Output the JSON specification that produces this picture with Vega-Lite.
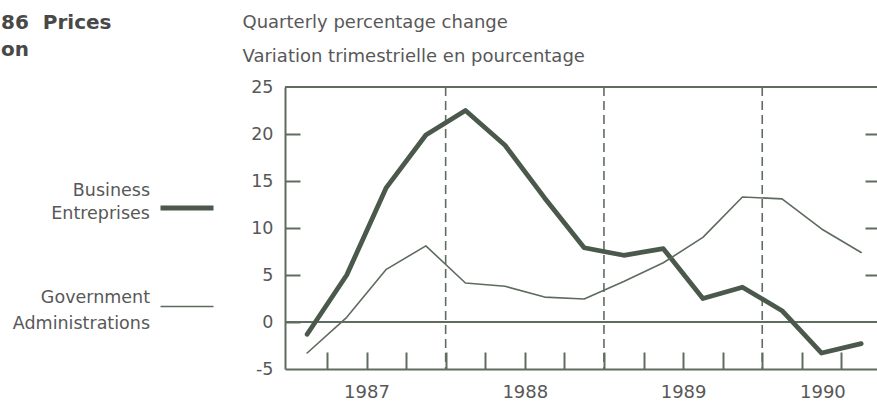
{
  "$schema": "https://vega.github.io/schema/vega-lite/v6.json",
  "autosize": {"type": "none"},
  "padding": {"left": 285, "top": 87, "right": 0, "bottom": 33},
  "width": 592,
  "height": 282,
  "background": "white",
  "title": {
    "text": ["86\u00a0\u00a0Prices", "on"],
    "anchor": "start",
    "frame": "group",
    "orient": "top",
    "dx": -284,
    "dy": 47,
    "offset": 0,
    "font": "DejaVu Sans",
    "fontSize": 20,
    "fontWeight": "bold",
    "color": "#484848",
    "lineHeight": 27
  },
  "config": {
    "view": {"stroke": null},
    "axis": {
      "labelFont": "DejaVu Sans",
      "labelFontSize": 17.5,
      "labelColor": "#585858",
      "domainColor": "#5f6d60",
      "tickColor": "#5f6d60",
      "grid": false
    },
    "legend": {
      "orient": "none",
      "legendX": -127,
      "legendY": 92,
      "title": null,
      "symbolType": "stroke",
      "symbolSize": 2809,
      "labelAlign": "right",
      "labelOffset": -66,
      "rowPadding": 56,
      "labelFont": "DejaVu Sans",
      "labelFontSize": 17.5,
      "labelColor": "#585858",
      "labelLimit": 0
    }
  },
  "datasets": {
    "series": [
      {"t": 1987.125, "series": "Business|Entreprises", "value": -1.3},
      {"t": 1987.375, "series": "Business|Entreprises", "value": 5.0},
      {"t": 1987.625, "series": "Business|Entreprises", "value": 14.3},
      {"t": 1987.875, "series": "Business|Entreprises", "value": 19.9},
      {"t": 1988.125, "series": "Business|Entreprises", "value": 22.5},
      {"t": 1988.375, "series": "Business|Entreprises", "value": 18.8},
      {"t": 1988.625, "series": "Business|Entreprises", "value": 13.2},
      {"t": 1988.875, "series": "Business|Entreprises", "value": 7.9},
      {"t": 1989.125, "series": "Business|Entreprises", "value": 7.1},
      {"t": 1989.375, "series": "Business|Entreprises", "value": 7.8},
      {"t": 1989.625, "series": "Business|Entreprises", "value": 2.5},
      {"t": 1989.875, "series": "Business|Entreprises", "value": 3.7},
      {"t": 1990.125, "series": "Business|Entreprises", "value": 1.2},
      {"t": 1990.375, "series": "Business|Entreprises", "value": -3.3},
      {"t": 1990.625, "series": "Business|Entreprises", "value": -2.3},
      {"t": 1987.125, "series": "Government|Administrations", "value": -3.3},
      {"t": 1987.375, "series": "Government|Administrations", "value": 0.5},
      {"t": 1987.625, "series": "Government|Administrations", "value": 5.6},
      {"t": 1987.875, "series": "Government|Administrations", "value": 8.1},
      {"t": 1988.125, "series": "Government|Administrations", "value": 4.15},
      {"t": 1988.375, "series": "Government|Administrations", "value": 3.8},
      {"t": 1988.625, "series": "Government|Administrations", "value": 2.65},
      {"t": 1988.875, "series": "Government|Administrations", "value": 2.45},
      {"t": 1989.125, "series": "Government|Administrations", "value": 4.3},
      {"t": 1989.375, "series": "Government|Administrations", "value": 6.3},
      {"t": 1989.625, "series": "Government|Administrations", "value": 9.0},
      {"t": 1989.875, "series": "Government|Administrations", "value": 13.3},
      {"t": 1990.125, "series": "Government|Administrations", "value": 13.1},
      {"t": 1990.375, "series": "Government|Administrations", "value": 9.9},
      {"t": 1990.625, "series": "Government|Administrations", "value": 7.4}
    ],
    "years": [{"year": 1988}, {"year": 1989}, {"year": 1990}],
    "zeroline": [{"level": 0}],
    "topline": [{"level": 25}]
  },
  "layer": [
    {
      "data": {"name": "years"},
      "mark": {"type": "rule", "strokeDash": [9, 5], "strokeWidth": 1.6, "color": "#5f6d60"},
      "encoding": {
        "x": {
          "field": "year", "type": "quantitative",
          "scale": {"domain": [1986.985, 1990.725], "nice": false, "zero": false},
          "axis": {
            "orient": "bottom",
            "values": [1987.5, 1988.5, 1989.5, 1990.5],
            "labelExpr": "toString(floor(datum.value))",
            "ticks": false, "domainWidth": 2,
            "labelPadding": 14, "labelFontSize": 18,
            "labelOffset": {"condition": {"test": "datum.value > 1990", "value": -19}, "value": 0},
            "title": null
          }
        }
      }
    },
    {
      "data": {"name": "zeroline"},
      "mark": {"type": "rule", "strokeWidth": 1.8, "color": "#5f6d60"},
      "encoding": {
        "y": {
          "field": "level", "type": "quantitative",
          "scale": {"domain": [-5, 25], "nice": false, "zero": false},
          "axis": {
            "orient": "left", "values": [-5, 0, 5, 10, 15, 20, 25],
            "ticks": false, "domainWidth": 2,
            "labelPadding": 12,
            "labelExpr": "datum.value < 0 ? '-' + toString(abs(datum.value)) : datum.label",
            "title": ["Quarterly percentage change", "Variation trimestrielle en pourcentage"],
            "titleAngle": 0, "titleAlign": "left", "titleBaseline": "alphabetic",
            "titleX": -43, "titleY": -60, "titleLineHeight": 34,
            "titleFont": "DejaVu Sans", "titleFontSize": 18, "titleFontWeight": "normal", "titleColor": "#585858"
          }
        }
      }
    },
    {
      "data": {"name": "topline"},
      "mark": {"type": "rule", "strokeWidth": 1.8, "color": "#5f6d60"},
      "encoding": {
        "y": {
          "field": "level", "type": "quantitative",
          "scale": {"domain": [-5, 25], "nice": false, "zero": false},
          "axis": {
            "orient": "right", "offset": -12, "values": [5, 10, 15, 20],
            "domain": false, "labels": false, "tickSize": 12, "tickWidth": 2, "title": null
          }
        }
      }
    },
    {
      "data": {"name": "series"},
      "mark": {"type": "line", "strokeJoin": "round", "strokeCap": "round"},
      "encoding": {
        "x": {
          "field": "t", "type": "quantitative",
          "scale": {"domain": [1986.985, 1990.725], "nice": false, "zero": false},
          "axis": {
            "orient": "bottom", "offset": -17,
            "values": [1987.25, 1987.5, 1987.75, 1988, 1988.25, 1988.5, 1988.75, 1989, 1989.25, 1989.5, 1989.75, 1990, 1990.25, 1990.5],
            "domain": false, "labels": false, "tickSize": 17, "tickWidth": 2,
            "title": null
          }
        },
        "y": {
          "field": "value", "type": "quantitative",
          "scale": {"domain": [-5, 25], "nice": false, "zero": false},
          "axis": {
            "orient": "left", "offset": -15, "values": [0, 5, 10, 15, 20],
            "domain": false, "labels": false, "tickSize": 15, "tickWidth": 2, "title": null
          }
        },
        "color": {
          "field": "series", "type": "nominal",
          "scale": {"domain": ["Business|Entreprises", "Government|Administrations"], "range": ["#4a594c", "#5d6b5e"]},
          "legend": {
            "labelExpr": "split(datum.label, '|')",
            "encoding": {
              "labels": {
                "lineHeight": {"condition": {"test": "indexof(datum.label, 'Business') >= 0", "value": 23}, "value": 26},
                "dy": {"condition": {"test": "indexof(datum.label, 'Business') >= 0", "value": -17}, "value": -9}
              }
            }
          }
        },
        "strokeWidth": {
          "field": "series", "type": "nominal",
          "scale": {"domain": ["Business|Entreprises", "Government|Administrations"], "range": [4.8, 1.6]},
          "legend": {"labelExpr": "split(datum.label, '|')"}
        }
      }
    }
  ],
  "resolve": {"axis": {"x": "independent", "y": "independent"}}
}
